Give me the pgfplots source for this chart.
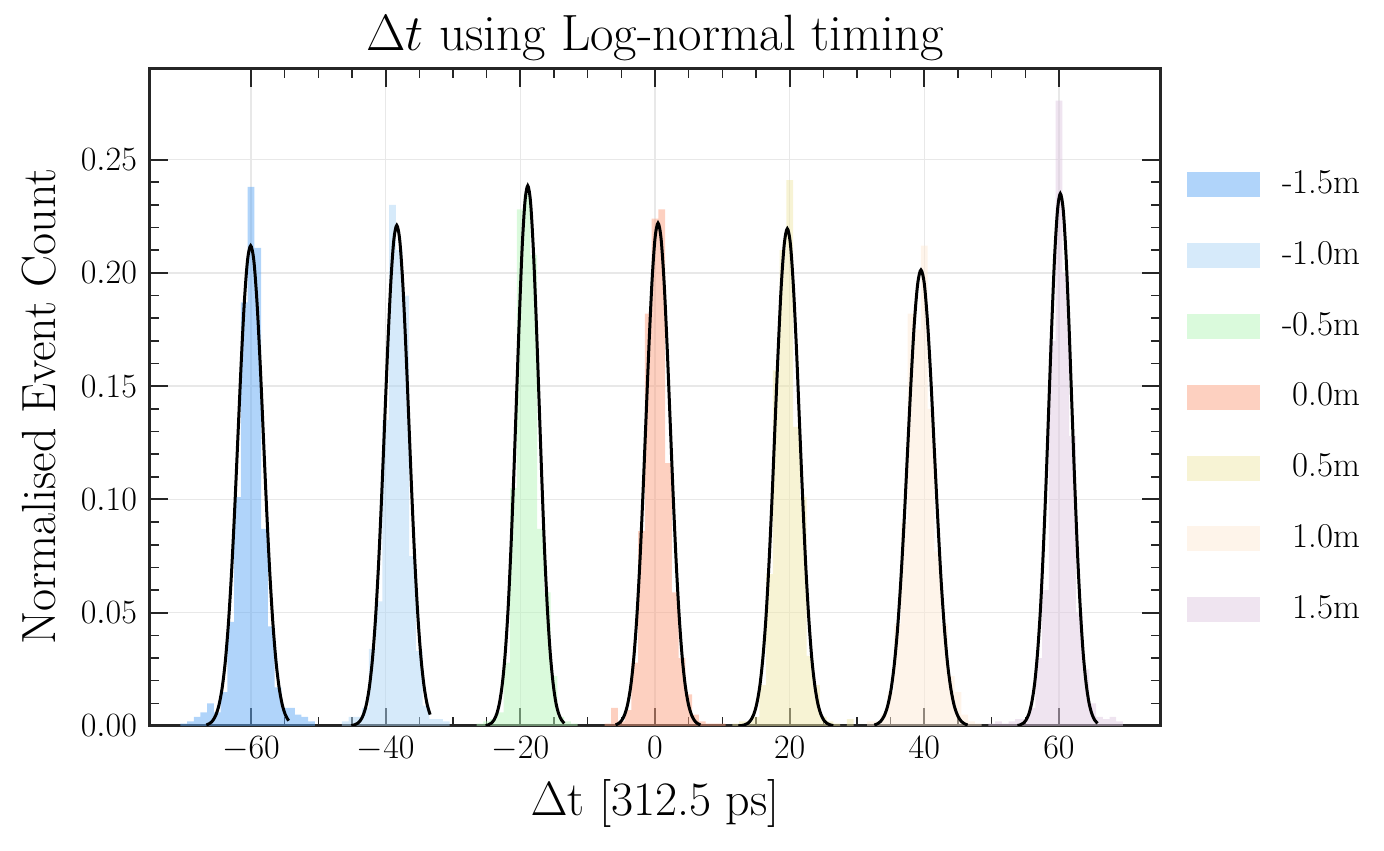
\RequirePackage{fix-cm}
\documentclass[border=0pt]{standalone}
\usepackage{fontspec}
\usepackage{pgfplots}
\pgfplotsset{compat=1.18}
\definecolor{cA}{RGB}{97,169,245}
\definecolor{cB}{RGB}{173,213,245}
\definecolor{cC}{RGB}{181,245,185}
\definecolor{cD}{RGB}{251,161,129}
\definecolor{cE}{RGB}{239,231,169}
\definecolor{cF}{RGB}{253,233,213}
\definecolor{cG}{RGB}{223,201,225}
\definecolor{frame}{RGB}{38,38,38}
\definecolor{gridc}{RGB}{232,232,232}
\begin{document}
\begin{tikzpicture}
\begin{axis}[
  scale only axis, width=505pt, height=328.5pt,
  xmin=-75, xmax=75, ymin=0, ymax=0.29,
  xtick={-60,-40,-20,0,20,40,60}, minor x tick num=3,
  ytick={0,0.05,0.10,0.15,0.20,0.25}, minor y tick num=4,
  tick align=inside, xtick pos=both, ytick pos=both,
  major tick length=9pt, minor tick length=4.5pt,
  major tick style={line width=1pt, color=frame},
  minor tick style={line width=0.8pt, color=frame},
  axis line style={line width=1.5pt, color=frame},
  grid=major, major grid style={line width=0.75pt, color=gridc},
  scaled y ticks=false,
  tick label style={font=\fontsize{17}{20}\selectfont},
  xticklabel style={yshift=-2pt},
  yticklabel style={xshift=-3pt, /pgf/number format/fixed, /pgf/number format/fixed zerofill, /pgf/number format/precision=2},
  title={$\Delta t$ using Log-normal timing},
  title style={font=\fontsize{25.5}{30}\selectfont, at={(axis description cs:0.5,1)}, anchor=base, yshift=3pt},
  xlabel={$\Delta$t [312.5 ps]},
  xlabel style={font=\fontsize{24}{28}\selectfont, at={(axis description cs:0.5,0)}, anchor=base, yshift=-45pt},
  ylabel={Normalised Event Count},
  ylabel style={font=\fontsize{24}{28}\selectfont, at={(axis description cs:-0.0931,0.486)}, anchor=base},
  legend style={at={(axis description cs:1,1)}, anchor=north west, xshift=13.5pt, yshift=-50pt,
    draw=none, fill=none, inner sep=0pt, row sep=19.9pt, column sep=11pt,
    font=\fontsize{17.4}{20}\selectfont,
    nodes={inner sep=0pt, text height=12pt, text depth=3.5pt}},
  legend cell align=left,
  legend image code/.code={\fill[#1] (0pt,-6.25pt) rectangle (36.5pt,6.25pt);},
  hist/.style={const plot, draw=none, fill=#1, fill opacity=0.5},
  fitc/.style={black, line width=1.5pt, smooth, forget plot},
]
% histograms
\addplot[hist=cA] coordinates {(-70.5,0.001)(-69.5,0.002)(-68.5,0.004)(-67.5,0.006)(-66.5,0.010)(-65.5,0.006)(-64.5,0.015)(-63.5,0.046)(-62.5,0.101)(-61.5,0.187)(-60.5,0.238)(-59.5,0.211)(-58.5,0.087)(-57.5,0.044)(-56.5,0.017)(-55.5,0.008)(-54.5,0.008)(-53.5,0.005)(-52.5,0.004)(-51.5,0.002)(-50.5,0.002)} \closedcycle;
\addlegendentry{-1.5m}
\addplot[hist=cB] coordinates {(-46.5,0.002)(-45.5,0.004)(-44.5,0.004)(-43.5,0.008)(-42.5,0.034)(-41.5,0.055)(-40.5,0.135)(-39.5,0.230)(-38.5,0.210)(-37.5,0.190)(-36.5,0.075)(-35.5,0.033)(-34.5,0.009)(-33.5,0.003)(-32.5,0.003)(-31.5,0.002)(-30.5,0.002)} \closedcycle;
\addlegendentry{-1.0m}
\addplot[hist=cC] coordinates {(-26.5,0.001)(-25.5,0.002)(-24.5,0.003)(-23.5,0.006)(-22.5,0.028)(-21.5,0.105)(-20.5,0.228)(-19.5,0.235)(-18.5,0.208)(-17.5,0.087)(-16.5,0.059)(-15.5,0.022)(-14.5,0.004)(-13.5,0.002)(-12.5,0.001)(-11.5,0.001)} \closedcycle;
\addlegendentry{-0.5m}
\addplot[hist=cD] coordinates {(-7.5,0.001)(-6.5,0.008)(-5.5,0.002)(-4.5,0.007)(-3.5,0.028)(-2.5,0.086)(-1.5,0.182)(-0.5,0.224)(0.5,0.228)(1.5,0.116)(2.5,0.059)(3.5,0.030)(4.5,0.014)(5.5,0.005)(6.5,0.002)(7.5,0.001)(8.5,0.001)(9.5,0.001)(10.5,0.001)} \closedcycle;
\addlegendentry{\hphantom{-}0.0m}
\addplot[hist=cE] coordinates {(11.5,0.001)(12.5,0.002)(13.5,0.002)(14.5,0.004)(15.5,0.018)(16.5,0.067)(17.5,0.157)(18.5,0.21)(19.5,0.241)(20.5,0.132)(21.5,0.101)(22.5,0.031)(23.5,0.018)(24.5,0.004)(25.5,0.002)(26.5,0.001)(27.5,0.0)(28.5,0.003)(29.5,0.003)} \closedcycle;
\addlegendentry{\hphantom{-}0.5m}
\addplot[hist=cF] coordinates {(31.5,0.002)(32.5,0.002)(33.5,0.005)(34.5,0.015)(35.5,0.045)(36.5,0.09)(37.5,0.182)(38.5,0.175)(39.5,0.212)(40.5,0.14)(41.5,0.077)(42.5,0.045)(43.5,0.022)(44.5,0.015)(45.5,0.005)(46.5,0.002)(47.5,0.001)(48.5,0.001)} \closedcycle;
\addlegendentry{\hphantom{-}1.0m}
\addplot[hist=cG] coordinates {(49.5,0.001)(50.5,0.002)(51.5,0.001)(52.5,0.002)(53.5,0.003)(54.5,0.003)(55.5,0.008)(56.5,0.03)(57.5,0.06)(58.5,0.17)(59.5,0.276)(60.5,0.2)(61.5,0.128)(62.5,0.05)(63.5,0.025)(64.5,0.01)(65.5,0.004)(66.5,0.003)(67.5,0.004)(68.5,0.002)(69.5,0.002)} \closedcycle;
\addlegendentry{\hphantom{-}1.5m}
% fitted curves
\addplot[fitc] coordinates {(-66.63,0.00047)(-66.16,0.00108)(-65.69,0.00235)(-65.22,0.00483)(-64.75,0.00931)(-64.28,0.01688)(-63.81,0.02868)(-63.34,0.04586)(-62.87,0.06884)(-62.40,0.09705)(-61.93,0.12858)(-61.46,0.16002)(-60.99,0.18709)(-60.52,0.20547)(-60.05,0.212)(-59.58,0.20547)(-59.11,0.18709)(-58.64,0.16002)(-58.17,0.12858)(-57.70,0.09705)(-57.23,0.06884)(-56.76,0.04586)(-56.29,0.02868)(-55.82,0.01688)(-55.35,0.00931)(-54.88,0.00483)(-54.41,0.00235)};
\addplot[fitc] coordinates {(-45.10,0.00019)(-44.65,0.00049)(-44.20,0.00113)(-43.75,0.00245)(-43.30,0.00504)(-42.85,0.00970)(-42.40,0.01759)(-41.95,0.02990)(-41.50,0.04780)(-41.05,0.07176)(-40.60,0.10117)(-40.15,0.13404)(-39.70,0.16681)(-39.25,0.19503)(-38.80,0.21419)(-38.35,0.221)(-37.90,0.21419)(-37.45,0.19503)(-37.00,0.16681)(-36.55,0.13404)(-36.10,0.10117)(-35.65,0.07176)(-35.20,0.04780)(-34.75,0.02990)(-34.30,0.01759)(-33.85,0.00970)(-33.40,0.00504)};
\addplot[fitc] coordinates {(-25.16,0.00021)(-24.75,0.00052)(-24.33,0.00122)(-23.91,0.00265)(-23.49,0.00544)(-23.08,0.01047)(-22.66,0.01898)(-22.24,0.03227)(-21.82,0.05159)(-21.41,0.07744)(-20.99,0.10919)(-20.57,0.14465)(-20.15,0.18002)(-19.74,0.21048)(-19.32,0.23115)(-18.90,0.2385)(-18.48,0.23115)(-18.07,0.21048)(-17.65,0.18002)(-17.23,0.14465)(-16.81,0.10919)(-16.40,0.07744)(-15.98,0.05159)(-15.56,0.03227)(-15.14,0.01898)(-14.73,0.01047)(-14.31,0.00544)(-13.89,0.00265)(-13.47,0.00122)};
\addplot[fitc] coordinates {(-5.85,0.00049)(-5.40,0.00113)(-4.95,0.00246)(-4.50,0.00506)(-4.05,0.00975)(-3.60,0.01767)(-3.15,0.03004)(-2.70,0.04802)(-2.25,0.07208)(-1.80,0.10163)(-1.35,0.13464)(-0.90,0.16757)(-0.45,0.19592)(0.00,0.21516)(0.45,0.222)(0.90,0.21516)(1.35,0.19592)(1.80,0.16757)(2.25,0.13464)(2.70,0.10163)(3.15,0.07208)(3.60,0.04802)(4.05,0.03004)(4.50,0.01767)(4.95,0.00975)(5.40,0.00506)(5.85,0.00246)(6.30,0.00113)(6.75,0.00049)};
\addplot[fitc] coordinates {(12.37,0.00007)(12.83,0.00019)(13.28,0.00048)(13.74,0.00112)(14.19,0.00244)(14.65,0.00500)(15.10,0.00964)(15.56,0.01747)(16.01,0.02970)(16.47,0.04748)(16.92,0.07127)(17.38,0.10049)(17.83,0.13313)(18.29,0.16568)(18.74,0.19371)(19.20,0.21274)(19.65,0.2195)(20.11,0.21274)(20.56,0.19371)(21.02,0.16568)(21.47,0.13313)(21.93,0.10049)(22.38,0.07127)(22.84,0.04748)(23.29,0.02970)(23.75,0.01747)(24.20,0.00964)(24.66,0.00500)(25.11,0.00244)(25.57,0.00112)(26.02,0.00048)(26.48,0.00019)};
\addplot[fitc] coordinates {(32.57,0.00044)(33.07,0.00103)(33.56,0.00223)(34.06,0.00459)(34.55,0.00884)(35.05,0.01602)(35.54,0.02724)(36.04,0.04354)(36.53,0.06536)(37.03,0.09216)(37.52,0.12209)(38.02,0.15194)(38.51,0.17765)(39.01,0.19510)(39.50,0.2013)(40.00,0.19510)(40.49,0.17765)(40.99,0.15194)(41.48,0.12209)(41.98,0.09216)(42.47,0.06536)(42.97,0.04354)(43.46,0.02724)(43.96,0.01602)(44.45,0.00884)(44.95,0.00459)(45.44,0.00223)(45.94,0.00103)(46.43,0.00044)};
\addplot[fitc] coordinates {(53.83,0.00021)(54.25,0.00052)(54.68,0.00120)(55.10,0.00261)(55.53,0.00536)(55.95,0.01032)(56.38,0.01871)(56.80,0.03180)(57.23,0.05083)(57.65,0.07630)(58.08,0.10758)(58.50,0.14253)(58.93,0.17738)(59.35,0.20739)(59.78,0.22776)(60.20,0.235)(60.63,0.22776)(61.05,0.20739)(61.48,0.17738)(61.90,0.14253)(62.33,0.10758)(62.75,0.07630)(63.18,0.05083)(63.60,0.03180)(64.03,0.01871)(64.45,0.01032)(64.88,0.00536)(65.30,0.00261)(65.73,0.00120)};
\end{axis}
\pgfresetboundingbox
\path[use as bounding box] (current axis.south west) ++(-75pt,-62.5pt) rectangle ([shift={(112pt,34.5pt)}]current axis.north east);
\end{tikzpicture}
\end{document}
